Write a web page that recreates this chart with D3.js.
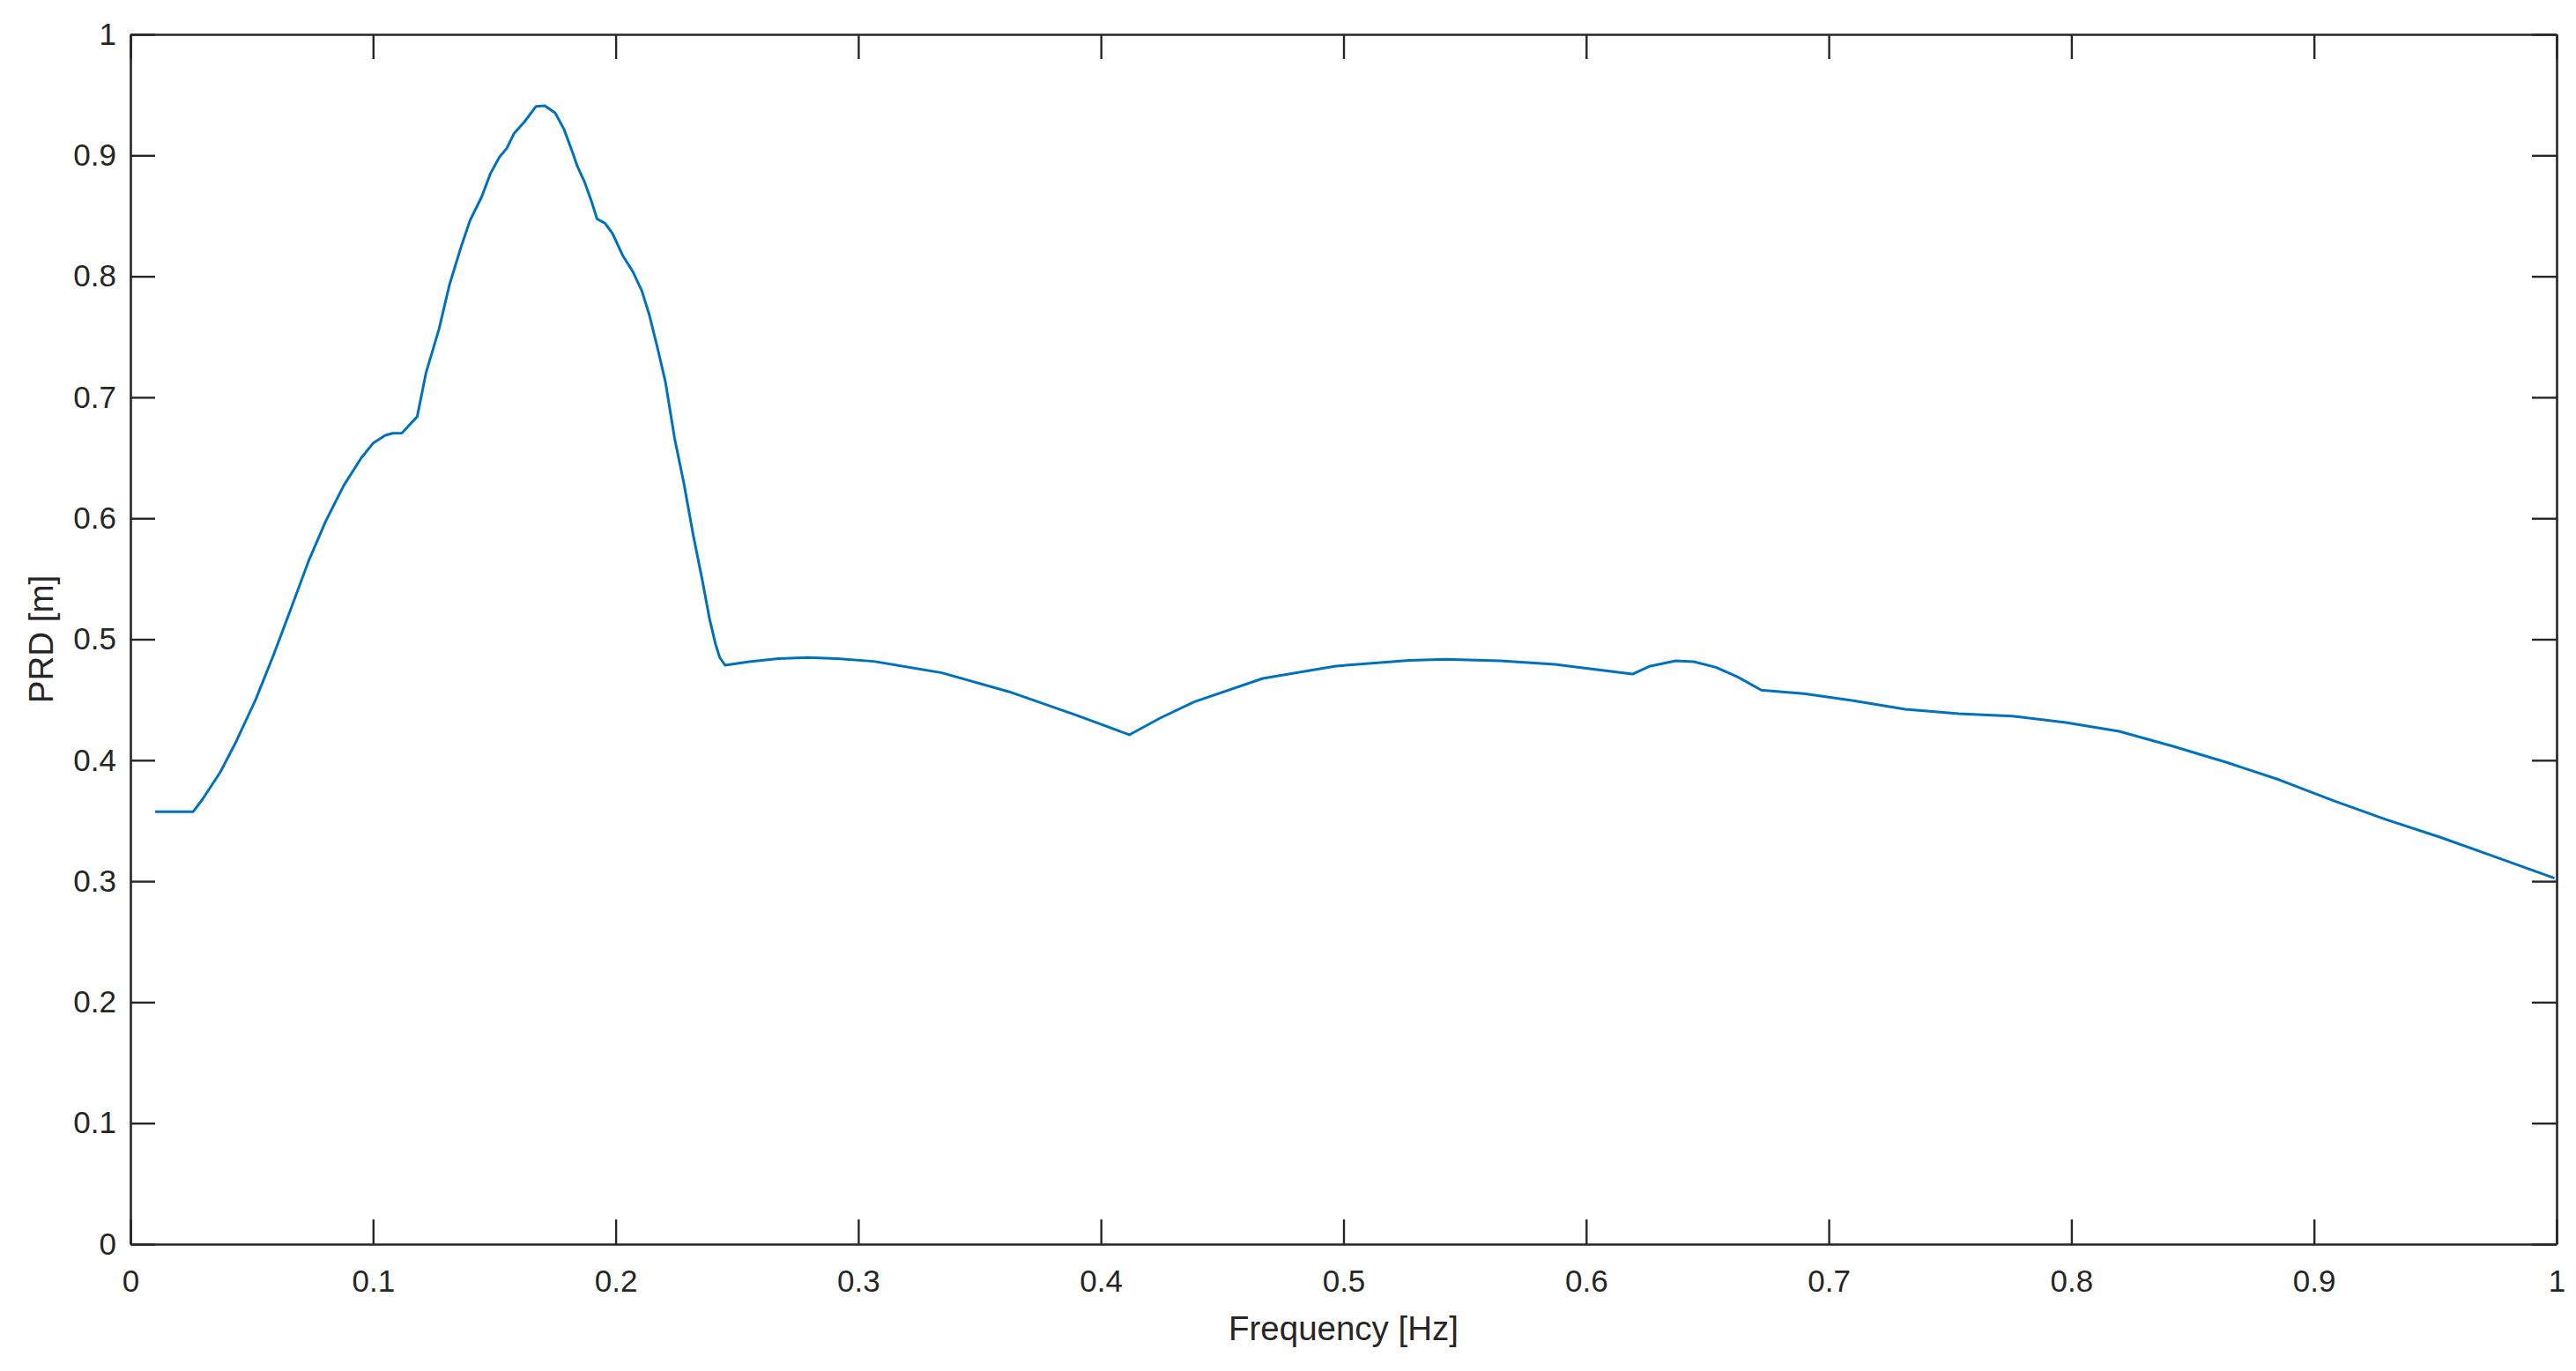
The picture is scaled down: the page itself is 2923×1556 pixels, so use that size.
<!DOCTYPE html>
<html>
<head>
<meta charset="utf-8">
<script src="https://cdn.jsdelivr.net/npm/d3@7"></script>
<style>
  body { margin: 0; background: #fff; }
  svg { display: block; }
</style>
</head>
<body>
<svg id="chart"></svg>
<script>
// frequency [Hz] and PRD [m]
var freq = [0.0102, 0.0259, 0.0298, 0.0370, 0.0431, 0.0516, 0.0588, 0.0661, 0.0734, 0.0806,
  0.0879, 0.0952, 0.1000, 0.1049, 0.1080, 0.1119, 0.1182, 0.1218, 0.1272, 0.1315,
  0.1363, 0.1400, 0.1448, 0.1484, 0.1521, 0.1551, 0.1581, 0.1624, 0.1672, 0.1708,
  0.1751, 0.1787, 0.1823, 0.1842, 0.1872, 0.1902, 0.1923, 0.1956, 0.1987, 0.2029,
  0.2071, 0.2108, 0.2138, 0.2174, 0.2205, 0.2243, 0.2281, 0.2320, 0.2356, 0.2387,
  0.2411, 0.2429, 0.2451, 0.2550, 0.2671, 0.2792, 0.2913, 0.3064, 0.3341, 0.3620,
  0.3898, 0.4117, 0.4244, 0.4384, 0.4667, 0.4968, 0.5270, 0.5420, 0.5646, 0.5872,
  0.6023, 0.6191, 0.6264, 0.6369, 0.6444, 0.6535, 0.6625, 0.6722, 0.6898, 0.7096,
  0.7316, 0.7536, 0.7756, 0.7977, 0.8197, 0.8416, 0.8637, 0.8857, 0.9077, 0.9297,
  0.9518, 0.9738, 0.9991];
var prd = [0.3575, 0.3575, 0.368, 0.390, 0.4135, 0.450, 0.486, 0.525, 0.5645, 0.598,
  0.627, 0.650, 0.662, 0.6684, 0.6702, 0.6705, 0.684, 0.720, 0.7565, 0.793,
  0.8245, 0.8463, 0.8658, 0.885, 0.8986, 0.9058, 0.918, 0.9277, 0.9405, 0.941,
  0.935, 0.9216, 0.902, 0.891, 0.8779, 0.861, 0.8475, 0.8439, 0.8354, 0.8172,
  0.8038, 0.788, 0.7686, 0.7395, 0.7128, 0.666, 0.629, 0.5857, 0.55, 0.5168,
  0.4964, 0.4849, 0.4785, 0.4815, 0.484, 0.4849, 0.484, 0.4817, 0.4724, 0.4567,
  0.4373, 0.421, 0.4348, 0.4482, 0.4676, 0.4778, 0.4826, 0.4834, 0.4822, 0.4792,
  0.4754, 0.4712, 0.4778, 0.4822, 0.4814, 0.4768, 0.4688, 0.4579, 0.455, 0.4494,
  0.4421, 0.4385, 0.4365, 0.4312, 0.4239, 0.4117, 0.3984, 0.3838, 0.3668, 0.351,
  0.3365, 0.3207, 0.3025];
var xTicks = [0, 0.1, 0.2, 0.3, 0.4, 0.5, 0.6, 0.7, 0.8, 0.9, 1];
var yTicks = [0, 0.1, 0.2, 0.3, 0.4, 0.5, 0.6, 0.7, 0.8, 0.9, 1];

var width = 2923, height = 1556;
var margin = {left: 148, top: 39, right: 22, bottom: 144};
var plotW = width - margin.left - margin.right;
var plotH = height - margin.top - margin.bottom;
var axisColor = "#262626";
var tickLen = 28;

var svg = d3.select("#chart")
  .attr("width", width)
  .attr("height", height);

var g = svg.append("g")
  .attr("transform", "translate(" + margin.left + "," + margin.top + ")");

var x = d3.scaleLinear().domain([0, 1]).range([0, plotW]);
var y = d3.scaleLinear().domain([0, 1]).range([plotH, 0]);

var fmt = function(d){ return d3.format("~g")(d); };

// bottom axis, ticks inside
var xAxis = g.append("g")
  .attr("transform", "translate(0," + plotH + ")")
  .call(d3.axisBottom(x).tickValues(xTicks).tickFormat(fmt)
    .tickSizeInner(-tickLen).tickSizeOuter(0).tickPadding(29));

// left axis
var yAxis = g.append("g")
  .call(d3.axisLeft(y).tickValues(yTicks).tickFormat(fmt)
    .tickSizeInner(-tickLen).tickSizeOuter(0).tickPadding(16));

// mirrored top and right axes (box on)
var topAxis = g.append("g")
  .call(d3.axisTop(x).tickValues(xTicks).tickFormat("")
    .tickSizeInner(-tickLen).tickSizeOuter(0));

var rightAxis = g.append("g")
  .attr("transform", "translate(" + plotW + ",0)")
  .call(d3.axisRight(y).tickValues(yTicks).tickFormat("")
    .tickSizeInner(-tickLen).tickSizeOuter(0));

[xAxis, yAxis, topAxis, rightAxis].forEach(function(a){
  a.select(".domain")
    .attr("stroke", axisColor)
    .attr("stroke-width", 2.6);
  a.selectAll(".tick line")
    .attr("stroke", axisColor)
    .attr("stroke-width", 2.4);
  a.selectAll(".tick text")
    .attr("fill", axisColor)
    .style("font-family", "'Liberation Sans', Arial, Helvetica, sans-serif")
    .style("font-size", "35px");
});

// the curve
var data = freq.map(function(f, i){ return {f: f, v: prd[i]}; });

var line = d3.line()
  .x(function(d){ return x(d.f); })
  .y(function(d){ return y(d.v); })
  .curve(d3.curveLinear);

g.append("path")
  .datum(data)
  .attr("d", line)
  .attr("fill", "none")
  .attr("stroke", "#0072BD")
  .attr("stroke-width", 3)
  .attr("stroke-linejoin", "round");

// axis labels
svg.append("text")
  .attr("x", margin.left + plotW / 2)
  .attr("y", 1521)
  .attr("text-anchor", "middle")
  .attr("fill", axisColor)
  .style("font-family", "'Liberation Sans', Arial, Helvetica, sans-serif")
  .style("font-size", "38.5px")
  .text("Frequency [Hz]");

svg.append("text")
  .attr("transform", "translate(60," + (margin.top + plotH / 2) + ") rotate(-90)")
  .attr("text-anchor", "middle")
  .attr("fill", axisColor)
  .style("font-family", "'Liberation Sans', Arial, Helvetica, sans-serif")
  .style("font-size", "38.5px")
  .text("PRD [m]");
</script>
</body>
</html>
